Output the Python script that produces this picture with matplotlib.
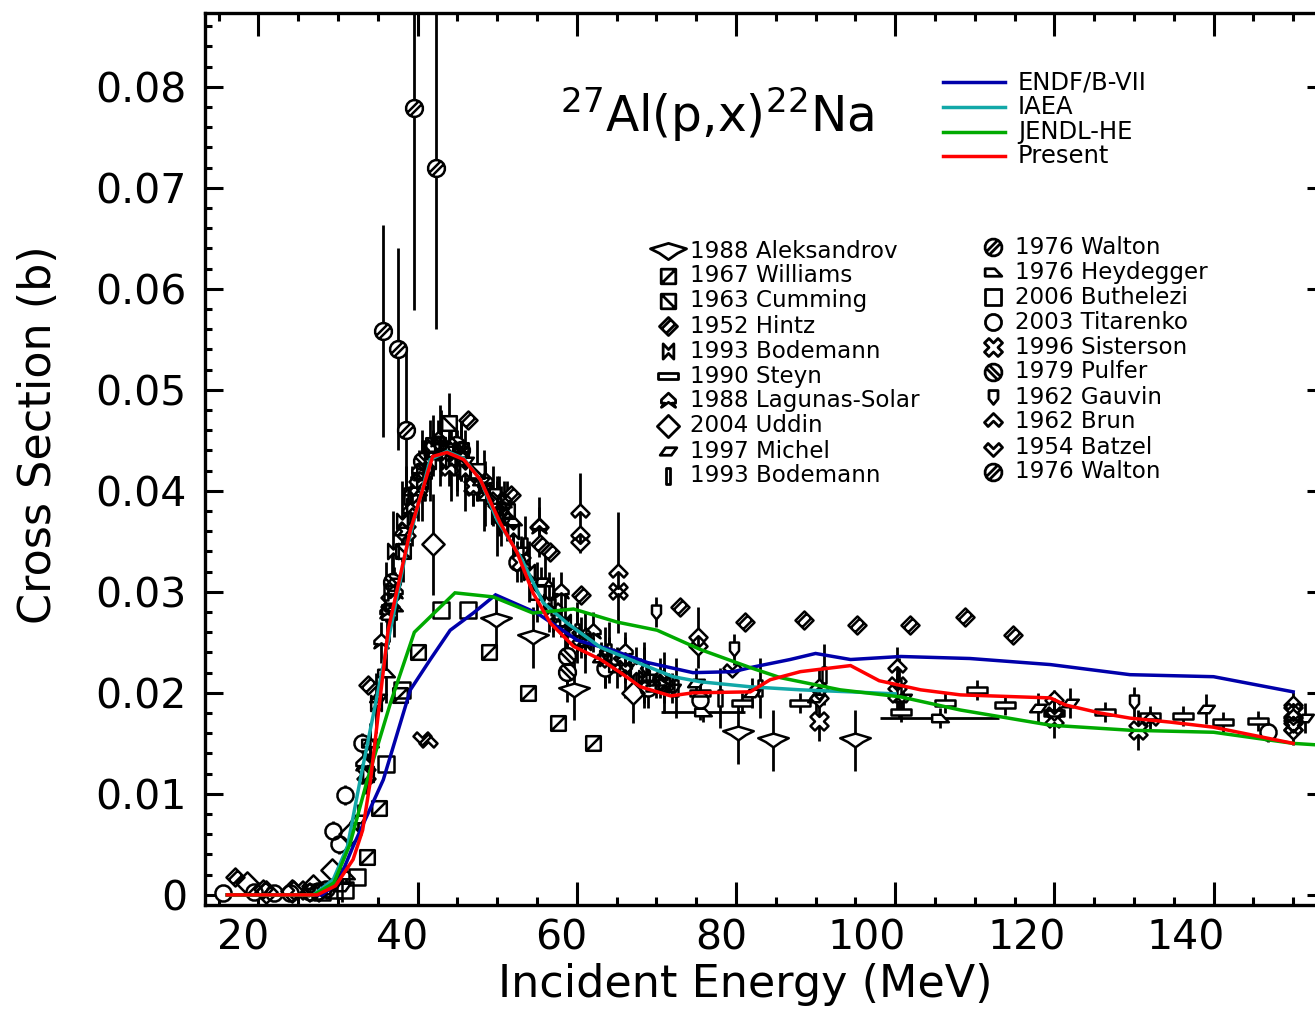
import numpy as np
import matplotlib
matplotlib.use("Agg")
import matplotlib.pyplot as plt
from matplotlib.path import Path
from matplotlib.lines import Line2D
from matplotlib.transforms import ScaledTranslation
from matplotlib.ticker import MultipleLocator

plt.rcParams['font.family'] = ['DejaVu Sans']
plt.rcParams['mathtext.default'] = 'regular'

W, H, DPI = 1315, 1010, 100

# ---------------- evaluated libraries (MeV, barn) ----------------
endf_e = [16.1, 28.0, 30.0, 31.9, 35.7, 39.1, 41.6, 44.1, 47.0, 49.8, 55.0, 60.1, 64.2,
          68.9, 74.6, 79.7, 81.8, 86.8, 90.0, 94.4, 100.7, 109.4, 119.5, 129.5, 140.0, 150.0]
endf_xs = [0.0, 0.0, 0.0012, 0.0048, 0.0114, 0.0203, 0.0233, 0.0262, 0.0279, 0.0297, 0.0279,
           0.0252, 0.0243, 0.0230, 0.0220, 0.0221, 0.0225, 0.0233, 0.0239, 0.0233, 0.0236,
           0.0234, 0.0228, 0.0218, 0.0216, 0.0201]

iaea_e = [16.1, 26.9, 29.4, 31.2, 32.8, 38.7, 41.6, 43.7, 45.8, 47.9, 50.0, 52.9, 55.8,
          58.8, 63.0, 68.9, 72.1, 75.5, 81.8, 88.1, 94.4, 100.0]
iaea_xs = [0.0, 0.0, 0.0015, 0.0048, 0.0114, 0.0345, 0.0431, 0.0439, 0.0432, 0.0411, 0.0371,
           0.0335, 0.0289, 0.0269, 0.0245, 0.0226, 0.0216, 0.0211, 0.0206, 0.0203, 0.0201,
           0.0199]

jendl_e = [16.1, 27.0, 29.5, 31.5, 33.7, 36.6, 39.6, 44.7, 49.5, 54.5, 59.6, 65.1, 70.1,
           75.5, 81.8, 85.6, 93.1, 100.7, 108.2, 119.5, 129.5, 140.0, 150.0, 154.0]
jendl_xs = [0.0, 0.0, 0.0012, 0.0050, 0.0114, 0.0190, 0.0260, 0.0299, 0.0295, 0.0279, 0.0283,
            0.0270, 0.0262, 0.0243, 0.0225, 0.0215, 0.0203, 0.0196, 0.0183, 0.0168, 0.0163,
            0.0161, 0.0150, 0.0148]

present_e = [16.1, 27.4, 29.7, 31.9, 33.1, 34.1, 36.3, 39.1, 41.9, 43.7, 45.8, 47.9, 50.4,
             52.5, 54.5, 56.7, 59.6, 63.0, 65.5, 68.0, 71.8, 74.6, 81.8, 84.3, 88.1, 94.4,
             98.0, 103.2, 108.2, 119.5, 121.4, 125.8, 129.5, 134.6, 140.0, 150.0]
present_xs = [0.0, 0.0, 0.0009, 0.0035, 0.0064, 0.0114, 0.0262, 0.0361, 0.0434, 0.0438, 0.0431,
              0.0411, 0.0368, 0.0339, 0.0299, 0.0269, 0.0246, 0.0233, 0.0220, 0.0206, 0.0197,
              0.0200, 0.0201, 0.0213, 0.0221, 0.0227, 0.0212, 0.0203, 0.0198, 0.0195, 0.0188,
              0.0180, 0.0175, 0.0171, 0.0166, 0.0150]

# ---------------- experimental data (E, xs, d_xs) ----------------
aleks_e = [49.8, 54.5, 59.6, 80.3, 84.7, 95.0]
aleks_xs = [0.0272, 0.0255, 0.0203, 0.0160, 0.0153, 0.0153]
aleks_dxs = [0.0025, 0.0030, 0.0030, 0.0030, 0.0030, 0.0030]

williams_e = [33.6, 35.1, 37.8, 40.1, 49.0, 53.9, 57.7, 62.1]
williams_xs = [0.0038, 0.0086, 0.0198, 0.0240, 0.0240, 0.0200, 0.0170, 0.0150]
williams_dxs = [0, 0, 0, 0, 0, 0, 0, 0]

cumming_e = [36.4, 38.2, 40.8, 42.0, 43.9, 45.5, 47.5, 49.5, 51.2, 55.0]
cumming_xs = [0.0280, 0.0340, 0.0420, 0.0445, 0.0467, 0.0440, 0.0420, 0.0395, 0.0380, 0.0300]
cumming_dxs = [0.003] * 10

hintz_e = [17.1, 20.6, 33.8, 46.4, 51.7, 55.4, 56.7, 60.5, 73.0, 81.2, 88.5, 95.2, 101.9,
           108.8, 114.8]
hintz_xs = [0.0018, 0.0006, 0.0208, 0.0470, 0.0396, 0.0347, 0.0339, 0.0297, 0.0285, 0.0270,
            0.0272, 0.0267, 0.0267, 0.0275, 0.0257]
hintz_dxs = [0] * 15

bodemann_e = [33.8, 34.8, 36.9, 38.0, 39.3, 40.5, 41.6, 42.8, 44.2, 46.0, 48.3, 50.0, 52.0,
              54.0, 56.5, 58.5, 61.0, 63.5, 66.0, 68.5, 71.0]
bodemann_xs = [0.0120, 0.0190, 0.0340, 0.0370, 0.0385, 0.0410, 0.0430, 0.0445, 0.0430, 0.0420,
               0.0400, 0.0375, 0.0360, 0.0320, 0.0290, 0.0270, 0.0250, 0.0235, 0.0225, 0.0215,
               0.0210]
bodemann_dxs = [0.002, 0.003, 0.004, 0.004, 0.004, 0.004, 0.004, 0.004, 0.004, 0.004, 0.004,
                0.004, 0.003, 0.003, 0.003, 0.003, 0.003, 0.003, 0.003, 0.003, 0.003]

steyn_e = [70.0, 75.5, 80.8, 88.0, 100.7, 106.3, 110.3, 113.8, 119.9, 126.4, 132.0, 136.2,
           141.2, 145.6]
steyn_xs = [0.0205, 0.0200, 0.0190, 0.0190, 0.0181, 0.0190, 0.0203, 0.0188, 0.0180, 0.0181,
            0.0177, 0.0177, 0.0171, 0.0172]
steyn_dxs = [0.001] * 14

lagunas_e = [33.2, 35.4, 36.2, 37.2, 39.0, 40.2, 42.6, 45.5, 48.5, 50.8, 55.2, 58.0, 62.0,
             66.0, 70.5]
lagunas_xs = [0.0130, 0.0250, 0.0280, 0.0300, 0.0380, 0.0420, 0.0450, 0.0440, 0.0410, 0.0390,
              0.0364, 0.0300, 0.0260, 0.0240, 0.0215]
lagunas_dxs = [0.002] * 15

uddin_e = [18.6, 21.0, 24.2, 26.9, 29.2, 31.5, 41.9, 67.1]
uddin_xs = [0.0012, 0.0003, 0.0004, 0.0009, 0.0025, 0.0060, 0.0347, 0.0200]
uddin_dxs = [0, 0, 0, 0, 0.0005, 0.001, 0.005, 0.003]

michel_e = [26.0, 28.5, 29.5, 30.5, 32.5, 34.0, 35.0, 37.0, 38.0, 39.2, 40.5, 42.0, 44.0,
            46.0, 48.0, 50.5, 53.0, 55.5, 58.0, 61.0, 63.0, 66.0, 69.0, 72.0, 75.0, 82.0,
            90.0, 101.0, 118.0, 122.0, 139.0, 151.5]
michel_xs = [0.0003, 0.0005, 0.0012, 0.0008, 0.0075, 0.0150, 0.0195, 0.0310, 0.0360, 0.0400,
             0.0415, 0.0435, 0.0440, 0.0430, 0.0410, 0.0380, 0.0340, 0.0310, 0.0270, 0.0250,
             0.0235, 0.0225, 0.0215, 0.0205, 0.0210, 0.0200, 0.0195, 0.0195, 0.0185, 0.0190,
             0.0184, 0.0175]
michel_dxs = [0.0005, 0.0005, 0.0005] + [0.0015] * 29

bodemann2_e = [36.0, 38.6, 41.0, 43.0, 45.0, 50.2, 53.5, 57.0, 60.0, 64.0, 68.5, 72.5, 78.0,
               83.0, 91.0, 100.5]
bodemann2_xs = [0.0300, 0.0395, 0.0420, 0.0445, 0.0425, 0.0385, 0.0345, 0.0285, 0.0260, 0.0240,
                0.0220, 0.0205, 0.0195, 0.0205, 0.0218, 0.0205]
bodemann2_dxs = [0.003] * 16

walton_e = [35.6, 37.5, 38.5, 39.5, 42.3]
walton_xs = [0.0558, 0.0540, 0.0460, 0.0779, 0.0720]
walton_dxs = [0.0105, 0.0100, 0.0080, 0.0200, 0.0160]

heyd_e = [31.0, 34.0, 36.0, 37.0, 40.0, 43.0, 45.0, 48.5, 52.0, 56.0, 60.0, 65.0, 75.9, 105.6]
heyd_xs = [0.0020, 0.0150, 0.0220, 0.0285, 0.0400, 0.0450, 0.0430, 0.0395, 0.0370, 0.0310,
           0.0260, 0.0225, 0.0181, 0.0175]
heyd_dxs = [0.001, 0.002, 0.003, 0.003, 0.003, 0.003, 0.003, 0.003, 0.003, 0.003, 0.002, 0.002,
            0.001, 0.001]
heyd_de = [0] * 12 + [5.3, 7.5]

buth_e = [28.0, 29.5, 30.9, 32.4, 36.0, 38.1, 42.9, 46.4]
buth_xs = [0.0003, 0.0005, 0.0005, 0.0018, 0.0130, 0.0203, 0.0282, 0.0282]
buth_dxs = [0] * 8

titar_e = [15.6, 19.5, 22.0, 24.0, 26.5, 27.5, 28.5, 29.4, 30.1, 30.9, 33.0, 47.0, 52.5, 63.5,
           69.0, 75.5, 146.9]
titar_xs = [0.0002, 0.0003, 0.0002, 0.0002, 0.0003, 0.0004, 0.0006, 0.0063, 0.0050, 0.0099,
            0.0150, 0.0405, 0.0330, 0.0225, 0.0205, 0.0193, 0.0161]
titar_dxs = [0.0005] * 7 + [0.001, 0.001, 0.001, 0.001, 0.002, 0.002, 0.002, 0.002, 0.002,
                            0.001]

sist_e = [25.0, 27.0, 33.5, 36.5, 38.5, 40.0, 42.0, 44.0, 47.0, 50.0, 53.0, 57.0, 60.5, 64.0,
          67.5, 71.0, 90.4, 100.2, 120.0, 130.5, 150.0, 150.0]
sist_xs = [0.0005, 0.0003, 0.0120, 0.0290, 0.0360, 0.0405, 0.0440, 0.0425, 0.0405, 0.0390,
           0.0330, 0.0280, 0.0255, 0.0235, 0.0225, 0.0210, 0.0172, 0.0200, 0.0175, 0.0163,
           0.0181, 0.0168]
sist_dxs = [0.0005, 0.0005] + [0.002] * 20

pulfer_e = [36.8, 40.6, 44.8, 58.8, 58.8]
pulfer_xs = [0.0310, 0.0430, 0.0445, 0.0236, 0.0221]
pulfer_dxs = [0.003] * 5

gauvin_e = [69.9, 79.7, 130.0]
gauvin_xs = [0.0280, 0.0243, 0.0191]
gauvin_dxs = [0.0015, 0.0015, 0.0015]

brun_e = [41.3, 55.2, 60.4, 60.4, 65.2, 65.2, 75.2, 90.4, 100.2, 120.0, 132.0, 150.0, 150.0]
brun_xs = [0.0150, 0.0364, 0.0378, 0.0356, 0.0319, 0.0297, 0.0255, 0.0205, 0.0225, 0.0193,
           0.0172, 0.0188, 0.0175]
brun_dxs = [0, 0.003, 0.004, 0, 0.006, 0, 0.003, 0.002, 0.002, 0.001, 0.001, 0, 0]

batzel_e = [40.6, 60.4, 65.2, 75.2, 79.5, 90.4, 100.2, 120.0, 150.0, 150.0]
batzel_xs = [0.0157, 0.0349, 0.0305, 0.0246, 0.0225, 0.0195, 0.0212, 0.0182, 0.0170, 0.0163]
batzel_dxs = [0] * 10

walton2_e = [45.5, 50.5]
walton2_xs = [0.0440, 0.0375]
walton2_dxs = [0.003, 0.003]

# ---------------- symbol shapes ----------------
def make_marker(outline, stripes=()):
    n = len(outline)
    v = [tuple(p) for p in outline] + [tuple(outline[0])]
    c = [Path.MOVETO] + [Path.LINETO] * (n - 1) + [Path.CLOSEPOLY]
    fill = Path(v, c)
    for a, b in stripes:
        v += [a, b]
        c += [Path.MOVETO, Path.LINETO]
    return Path(v, c), fill


def ring(n=16):
    t = np.linspace(0, 2 * np.pi, n, endpoint=False) + np.pi / n
    return list(zip(np.cos(t), np.sin(t)))


def band(direction, d=0.25):
    # two chords of the unit circle parallel to `direction`
    ux, uy = direction
    nrm = np.hypot(ux, uy)
    ux, uy = ux / nrm, uy / nrm
    px, py = -uy, ux
    h = np.sqrt(1 - d * d) * 0.98
    out = []
    for s in (-d, d):
        cx, cy = px * s, py * s
        out.append(((cx - ux * h, cy - uy * h), (cx + ux * h, cy + uy * h)))
    return out


sq = [(-1, -1), (1, -1), (1, 1), (-1, 1)]
dia = [(0, 1), (1, 0), (0, -1), (-1, 0)]
w = 0.33
plus = [(w, 1), (w, w), (1, w), (1, -w), (w, -w), (w, -1), (-w, -1), (-w, -w),
        (-1, -w), (-1, w), (-w, w), (-w, 1)]
rot = np.array([[np.cos(np.pi / 4), -np.sin(np.pi / 4)], [np.sin(np.pi / 4), np.cos(np.pi / 4)]])
xcross = [tuple(rot @ np.array(p)) for p in plus]

M = {
    'boat': make_marker([(-1, 0.15), (0, 0.45), (1, 0.15), (0.5, -0.1), (0, -0.45), (-0.5, -0.1)]),
    'sq_up': make_marker(sq, [((-1, -1), (1, 1))]),
    'sq_dn': make_marker(sq, [((-1, 1), (1, -1))]),
    'dia_str': make_marker(dia, [((-0.75, -0.25), (0.25, 0.75)), ((-0.25, -0.75), (0.75, 0.25))]),
    'bowtie': make_marker([(-0.7, 1), (0, 0.25), (0.7, 1), (0.7, -1), (0, -0.25), (-0.7, -1)]),
    'hrect': make_marker([(-1, -0.3), (1, -0.3), (1, 0.3), (-1, 0.3)]),
    'arrow': make_marker([(0, 1), (0.85, 0.2), (0.85, -0.2), (0.45, -0.2), (0.85, -0.7),
                          (0, -0.1), (-0.85, -0.7), (-0.45, -0.2), (-0.85, -0.2), (-0.85, 0.2)]),
    'dia': make_marker(dia),
    'para': make_marker([(-1, -0.45), (0.35, -0.45), (1, 0.45), (-0.35, 0.45)]),
    'vrect': make_marker([(-0.3, -1), (0.3, -1), (0.3, 1), (-0.3, 1)]),
    'circ_fw': make_marker(ring(), band((1, 1))),
    'wedge': make_marker([(-1, -0.45), (1, -0.45), (0.15, 0.45), (-1, 0.45)]),
    'sq': make_marker(sq),
    'circ': make_marker(ring()),
    'xcross': make_marker(xcross),
    'circ_bk': make_marker(ring(), band((1, -1))),
    'shield': make_marker([(-0.65, 1), (0.65, 1), (0.65, -0.2), (0, -1), (-0.65, -0.2)]),
    'chev_up': make_marker([(0, 1), (1, 0), (0.6, -0.45), (0, 0.15), (-0.6, -0.45), (-1, 0)]),
    'chev_dn': make_marker([(0, -1), (1, 0), (0.6, 0.45), (0, -0.15), (-0.6, 0.45), (-1, 0)]),
}

fig = plt.figure(figsize=(W / DPI, H / DPI), dpi=DPI)
ax_l, ax_r, ax_t, ax_b = 205, 1325, 13, 905
ax = fig.add_axes([ax_l / W, 1 - ax_b / H, (ax_r - ax_l) / W, (ax_b - ax_t) / H])
ax.set_xlim(13.3, 154.0)
ax.set_ylim(-0.001, 0.0873)

datasets = [
    ('1988 Aleksandrov', 'boat', 22, aleks_e, aleks_xs, aleks_dxs, None),
    ('1967 Williams', 'sq_up', 10.5, williams_e, williams_xs, williams_dxs, None),
    ('1963 Cumming', 'sq_dn', 10.5, cumming_e, cumming_xs, cumming_dxs, None),
    ('1952 Hintz', 'dia_str', 13, hintz_e, hintz_xs, hintz_dxs, None),
    ('1993 Bodemann', 'bowtie', 11, bodemann_e, bodemann_xs, bodemann_dxs, None),
    ('1990 Steyn', 'hrect', 15, steyn_e, steyn_xs, steyn_dxs, None),
    ('1988 Lagunas-Solar', 'arrow', 12, lagunas_e, lagunas_xs, lagunas_dxs, None),
    ('2004 Uddin', 'dia', 16, uddin_e, uddin_xs, uddin_dxs, None),
    ('1997 Michel', 'para', 12, michel_e, michel_xs, michel_dxs, None),
    ('1993 Bodemann', 'vrect', 11, bodemann2_e, bodemann2_xs, bodemann2_dxs, None),
    ('1976 Walton', 'circ_fw', 12, walton_e, walton_xs, walton_dxs, None),
    ('1976 Heydegger', 'wedge', 12, heyd_e, heyd_xs, heyd_dxs, heyd_de),
    ('2006 Buthelezi', 'sq', 11, buth_e, buth_xs, buth_dxs, None),
    ('2003 Titarenko', 'circ', 11.5, titar_e, titar_xs, titar_dxs, None),
    ('1996 Sisterson', 'xcross', 13, sist_e, sist_xs, sist_dxs, None),
    ('1979 Pulfer', 'circ_bk', 12, pulfer_e, pulfer_xs, pulfer_dxs, None),
    ('1962 Gauvin', 'shield', 10, gauvin_e, gauvin_xs, gauvin_dxs, None),
    ('1962 Brun', 'chev_up', 13, brun_e, brun_xs, brun_dxs, None),
    ('1954 Batzel', 'chev_dn', 13, batzel_e, batzel_xs, batzel_dxs, None),
    ('1976 Walton', 'circ_fw', 12, walton2_e, walton2_xs, walton2_dxs, None),
]

for label, key, ms, e, xs, dxs, de in datasets:
    full, fill = M[key]
    ax.errorbar(e, xs, yerr=dxs, xerr=de, fmt='none', ecolor='k', elinewidth=2.0,
                capsize=0, zorder=2)
    ax.plot(e, xs, ls='none', marker=fill, ms=ms, mfc='white', mec='white', mew=0, zorder=3)
    ax.plot(e, xs, ls='none', marker=full, ms=ms, mfc='none', mec='k', mew=1.8, zorder=4)

curves = [
    ('ENDF/B-VII', endf_e, endf_xs, '#0000aa'),
    ('IAEA', iaea_e, iaea_xs, '#12a8a8'),
    ('JENDL-HE', jendl_e, jendl_xs, '#00aa00'),
    ('Present', present_e, present_xs, '#ff0000'),
]
for label, e, xs, col in curves:
    ax.plot(e, xs, color=col, lw=2.5, zorder=5, solid_joinstyle='miter')

# ---------------- axes styling ----------------
for sp in ax.spines.values():
    sp.set_linewidth(2.4)
ax.xaxis.set_major_locator(MultipleLocator(20))
ax.xaxis.set_minor_locator(MultipleLocator(5))
ax.set_yticks(np.arange(0, 0.0801, 0.01))
ax.set_yticklabels(['0'] + ['%.2f' % v for v in np.arange(0.01, 0.0801, 0.01)])
ax.yaxis.set_minor_locator(MultipleLocator(0.002))
ax.tick_params(axis='x', which='major', direction='in', length=16.5, width=2.2,
               top=True, bottom=True, labelbottom=False)
ax.tick_params(axis='x', which='minor', direction='in', length=5.5, width=2.2,
               top=True, bottom=True)
ax.tick_params(axis='y', which='major', direction='in', length=13, width=2.2,
               left=True, right=True, labelsize=29.5, pad=13)
ax.tick_params(axis='y', which='minor', direction='in', length=5, width=2.2,
               left=True, right=True)

# energy tick labels, set flush right just past each tick
xtick_vals = [20, 40, 60, 80, 100, 120, 140]
xlab_tr = ax.get_xaxis_transform() + ScaledTranslation(11 / DPI, -45 / DPI, fig.dpi_scale_trans)
for v in xtick_vals:
    ax.text(v, 0, str(v), transform=xlab_tr, ha='right', va='baseline', fontsize=29.5)

ax.set_xlabel('Incident Energy (MeV)', fontsize=32, va='baseline')
ax.xaxis.set_label_coords((745 - ax_l) / (ax_r - ax_l), (ax_b - 997) / (ax_b - ax_t))
ax.set_ylabel('Cross Section (b)', fontsize=32, va='center')
ax.yaxis.set_label_coords((38 - ax_l) / (ax_r - ax_l), (ax_b - 435) / (ax_b - ax_t))


def fx(x):
    return x / W


def fy(y):
    return 1 - y / H


fig.text(fx(560), fy(132), r'$^{27}$Al(p,x)$^{22}$Na', fontsize=35, ha='left', va='baseline')

# library key
for i, (label, e, xs, col) in enumerate(curves):
    y = 82 + 24.8 * i
    fig.add_artist(Line2D([fx(943), fx(1005)], [fy(y), fy(y)], color=col, lw=2.5,
                          transform=fig.transFigure))
    fig.text(fx(1018), fy(y), label, fontsize=17.5, ha='left', va='center')

# measurement key, two columns
for i, (label, key, ms, *_rest) in enumerate(datasets):
    full, fill = M[key]
    if i < 10:
        sx, tx, y = 668, 690, 251 + 25 * i
    else:
        sx, tx, y = 993, 1015, 247 + 25 * (i - 10)
    kms = 26 if key == 'boat' else ms
    fig.add_artist(Line2D([fx(sx)], [fy(y)], ls='none', marker=full, ms=kms, mfc='none',
                          mec='k', mew=2.0, transform=fig.transFigure))
    fig.text(fx(tx), fy(y), label, fontsize=16.6, ha='left', va='center')

fig.savefig('out.png', dpi=DPI)
